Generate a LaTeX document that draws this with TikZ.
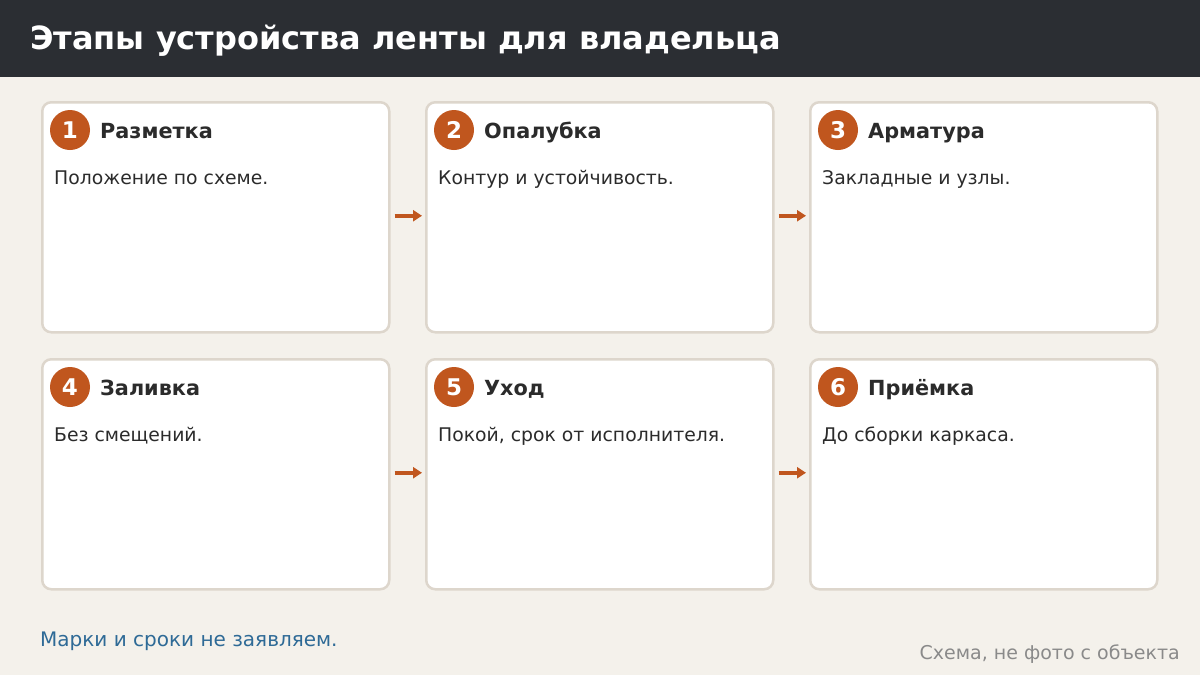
\documentclass[tikz,border=0pt]{standalone}
\usepackage{fontspec}
\setmainfont{DejaVu Sans}
\definecolor{bg}{HTML}{F4F1EB}
\definecolor{hdr}{HTML}{2B2E33}
\definecolor{cardline}{HTML}{DDD6CC}
\definecolor{accent}{HTML}{C0561E}
\definecolor{txt}{HTML}{2B2B2B}
\definecolor{note}{HTML}{2E6A96}
\definecolor{muted}{HTML}{8A8A8A}
\usetikzlibrary{arrows.meta}
\tikzset{
  card/.style={draw=cardline, line width=2.5pt, fill=white, rounded corners=9pt, minimum width=347pt, minimum height=230pt, anchor=north west, inner sep=0pt},
  badge/.style={circle, fill=accent, minimum size=40pt, inner sep=0pt, text=white, font=\fontsize{23}{26}\selectfont\bfseries},
  stitle/.style={anchor=base west, text=txt, font=\fontsize{20.8}{24}\selectfont\bfseries, inner sep=0pt},
  sdesc/.style={anchor=base west, text=txt, font=\fontsize{18.8}{22}\selectfont, inner sep=0pt},
  flow/.style={draw=accent, line width=3.5pt, -{Triangle[length=9pt,width=11pt]}, shorten <=4pt, shorten >=3pt},
}
\begin{document}
\begin{tikzpicture}[x=1pt,y=-1pt]
\fill[bg] (0,0) rectangle (1200,675);
\useasboundingbox (0,0) rectangle (1200,675);
\fill[hdr] (0,0) rectangle (1200,77);
\node[anchor=base west, text=white, font=\fontsize{32}{38}\selectfont\bfseries, inner sep=0pt] (title) at (30,49) {Этапы устройства ленты для владельца};
% cards
\foreach \i/\x/\y/\t/\d in {1/41/101/Разметка/Положение по схеме.,2/425/101/Опалубка/Контур и устойчивость.,3/809/101/Арматура/Закладные и узлы.,4/41/358/Заливка/Без смещений.,5/425/358/Уход/{Покой, срок от исполнителя.},6/809/358/Приёмка/До сборки каркаса.}{
  \node[card] (c\i) at (\x,\y) {};
  \node[badge] (b\i) at (\x+29,\y+29) {\i};
  \node[stitle] (t\i) at (\x+59,\y+37) {\t};
  \node[sdesc] (d\i) at (\x+13,\y+83) {\d};
}
\draw[flow] ([yshift=1.5pt]c1.east) -- ([yshift=1.5pt]c2.west);
\draw[flow] ([yshift=1.5pt]c2.east) -- ([yshift=1.5pt]c3.west);
\draw[flow] ([yshift=1.5pt]c4.east) -- ([yshift=1.5pt]c5.west);
\draw[flow] ([yshift=1.5pt]c5.east) -- ([yshift=1.5pt]c6.west);
\node[anchor=base west, text=note, font=\fontsize{20}{24}\selectfont, inner sep=0pt] (n1) at (40,646) {Марки и сроки не заявляем.};
\node[anchor=base east, text=muted, font=\fontsize{19}{23}\selectfont, inner sep=0pt] (n2) at (1180,659) {Схема, не фото с объекта};
\end{tikzpicture}
\end{document}
